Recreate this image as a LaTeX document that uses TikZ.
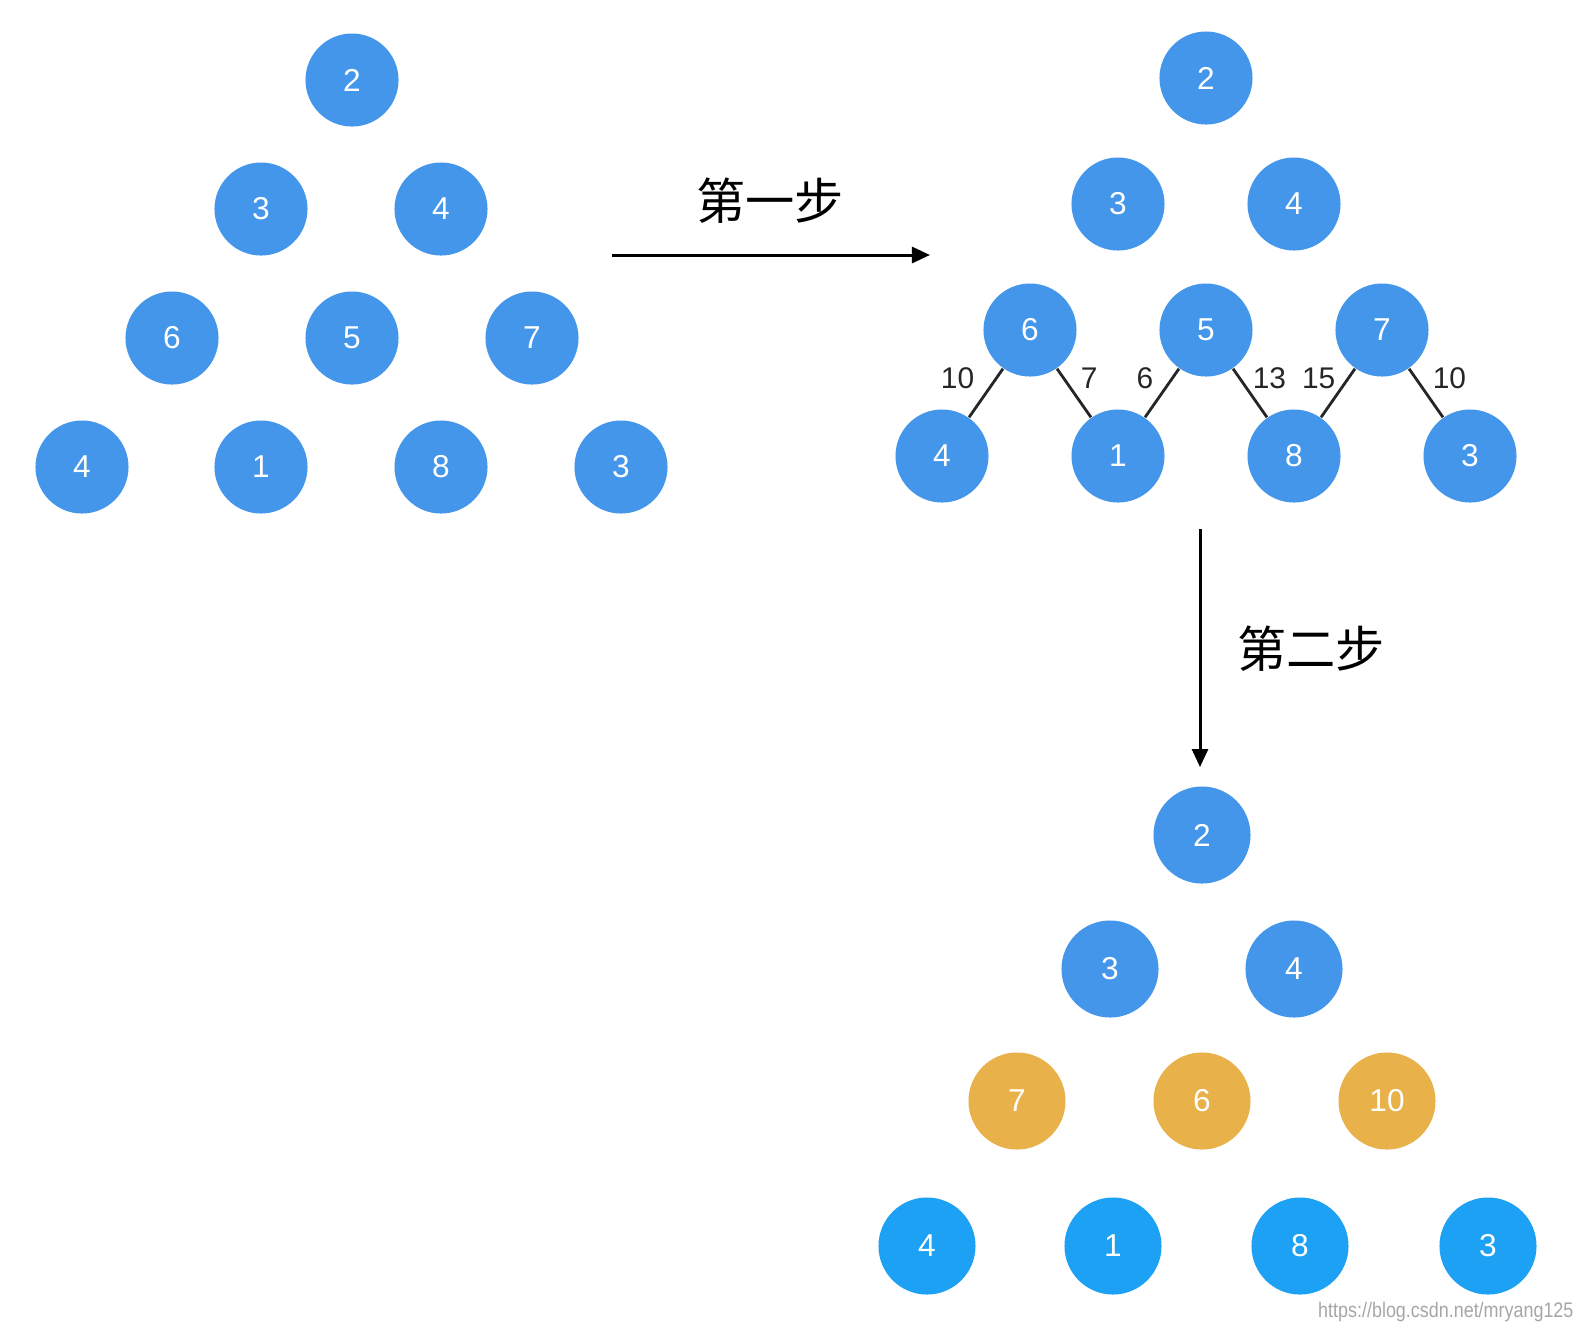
\documentclass[tikz,border=0pt]{standalone}
\usepackage{fontspec}
\setsansfont{Liberation Sans}
\newfontfamily\cjkfont{Noto Sans CJK SC}
\usetikzlibrary{arrows.meta}
\definecolor{ballblue}{HTML}{4496EA}
\definecolor{leafblue}{HTML}{1DA1F4}
\definecolor{ballorange}{HTML}{E8B14A}
\tikzset{ball/.style={circle, fill=ballblue, text=white, inner sep=0pt,
  minimum size=0.93cm, font=\sffamily\fontsize{9}{9}\selectfont}}
\tikzset{bigball/.style={ball, minimum size=0.97cm}}
\tikzset{newball/.style={bigball, fill=ballorange}}
\tikzset{leafball/.style={bigball, fill=leafblue}}
\tikzset{link/.style={draw=black!85, line width=0.8pt}}
\tikzset{weight/.style={font=\sffamily\fontsize{8.5}{8.5}\selectfont, text=black!85, inner sep=1pt}}
\tikzset{steparrow/.style={line width=0.85pt, -{Triangle[length=1.8mm,width=1.6mm]}}}
\tikzset{steplabel/.style={font=\cjkfont\fontsize{14}{14}\selectfont}}

\begin{document}
\begin{tikzpicture}[x=0.01cm, y=-0.01cm]
  \useasboundingbox (0,0) rectangle (1587,1329);
  % start: the triangle as given.
  \node[ball] (a2) at (352,80) {2};
  \node[ball] (a3) at (261,209) {3};
  \node[ball] (a4) at (441,209) {4};
  \node[ball] (a6) at (172,338) {6};
  \node[ball] (a5) at (352,338) {5};
  \node[ball] (a7) at (532,338) {7};
  \node[ball] (a41) at (82,467) {4};
  \node[ball] (a1) at (261,467) {1};
  \node[ball] (a8) at (441,467) {8};
  \node[ball] (a31) at (621,467) {3};
  % Step one.
  \coordinate (s1) at (612,255);
  \coordinate (e1) at (930,255);
  \draw[steparrow] (s1) -- (e1);
  \node[steplabel] (t1) at (770,201) {第一步};
  % after step one: sums on the last two rows.
  \node[ball] (b2) at (1206,78) {2};
  \node[ball] (b3) at (1118,204) {3};
  \node[ball] (b4) at (1294,204) {4};
  \node[ball] (b6) at (1030,330) {6};
  \node[ball] (b5) at (1206,330) {5};
  \node[ball] (b7) at (1382,330) {7};
  \node[ball] (b41) at (942,456) {4};
  \node[ball] (b1) at (1118,456) {1};
  \node[ball] (b8) at (1294,456) {8};
  \node[ball] (b31) at (1470,456) {3};
  \draw[link] (b6) -- (b41) node[weight, pos=0.2, left=0.17cm] (w1) {10};
  \draw[link] (b6) -- (b1) node[weight, pos=0.2, right=0.12cm] (w2) {7};
  \draw[link] (b5) -- (b1) node[weight, pos=0.2, left=0.14cm] (w3) {6};
  \draw[link] (b5) -- (b8) node[weight, pos=0.2, right=0.08cm] (w4) {13};
  \draw[link] (b7) -- (b8) node[weight, pos=0.2, left=0.08cm] (w5) {15};
  \draw[link] (b7) -- (b31) node[weight, pos=0.2, right=0.12cm] (w6) {10};
  % Step two.
  \coordinate (s2) at (1200,529);
  \coordinate (e2) at (1200,767);
  \draw[steparrow] (s2) -- (e2);
  \node[steplabel] (t2) at (1311,649) {第二步};
  % result: the minima taken up.
  \node[bigball] (c2) at (1202,835) {2};
  \node[bigball] (c3) at (1110,969) {3};
  \node[bigball] (c4) at (1294,969) {4};
  \node[newball] (c7) at (1017,1101) {7};
  \node[newball] (c6) at (1202,1101) {6};
  \node[newball] (c10) at (1387,1101) {10};
  \node[leafball] (c41) at (927,1246) {4};
  \node[leafball] (c1) at (1113,1246) {1};
  \node[leafball] (c8) at (1300,1246) {8};
  \node[leafball] (c31) at (1488,1246) {3};
  \node[anchor=east, text=black!35, xscale=0.85, font=\sffamily\fontsize{6}{6}\selectfont]
    (mark) at (1584,1312) {https://blog.csdn.net/mryang125};
\end{tikzpicture}
\end{document}
